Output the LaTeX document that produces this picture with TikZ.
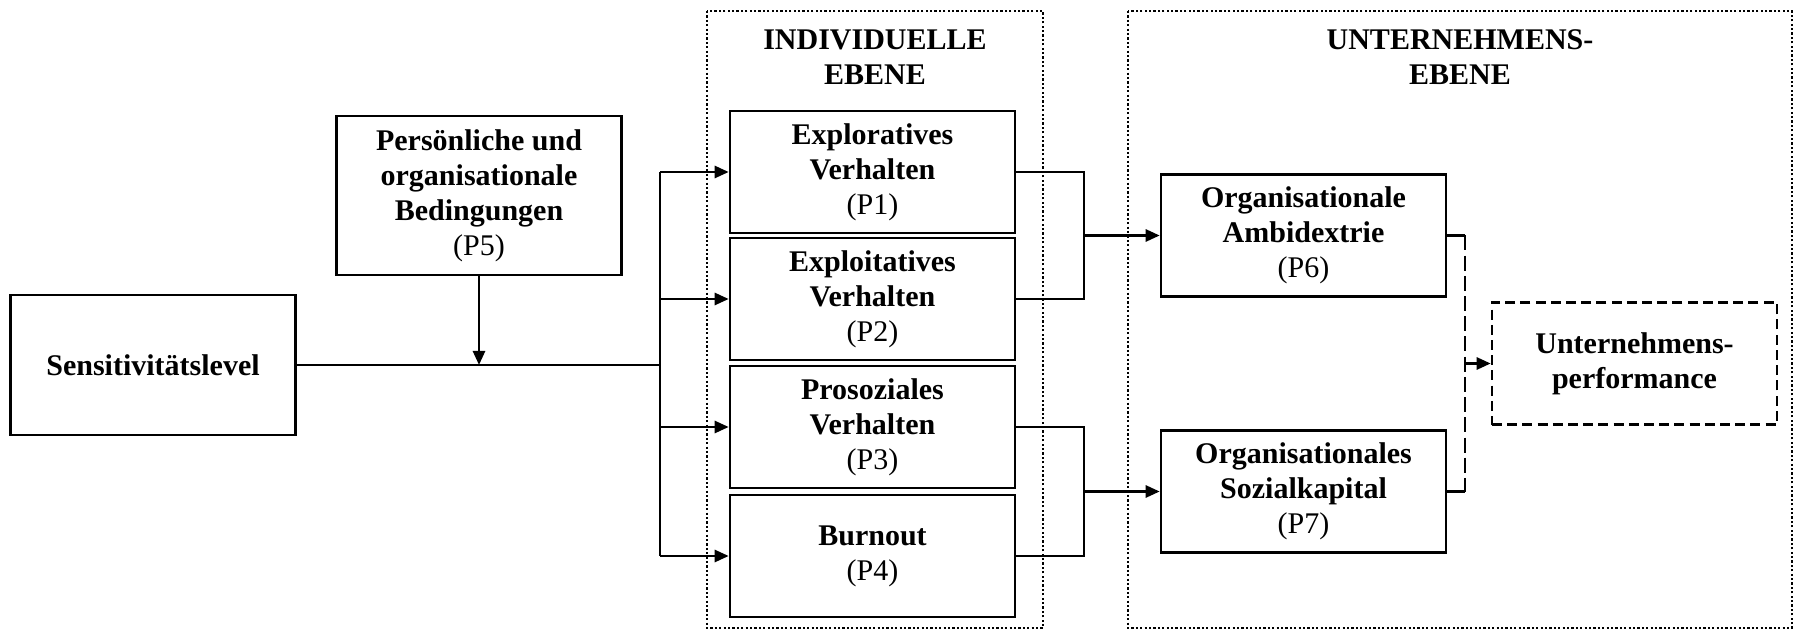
\documentclass[tikz,border=0pt]{standalone}
\usepackage{fontspec}
\setmainfont{Liberation Serif}
\usetikzlibrary{arrows.meta}
\begin{document}
\begin{tikzpicture}[x=0.5pt, y=-0.5pt, line width=1.3pt,
  every node/.style={font=\fontsize{15}{17.5}\selectfont\bfseries, align=center, inner sep=2pt},
  box/.style={draw, minimum width=142.5pt, minimum height=61pt},
  ebene/.style={line width=0.9pt, dash pattern=on 1.1pt off 1.1pt},
  gestrichelt/.style={dash pattern=on 5pt off 2.6pt},
  langstrich/.style={dash pattern=on 7.5pt off 2.6pt},
  pfeil/.style={-{Triangle[length=7pt, width=6pt]}}]
\useasboundingbox (0,0) rectangle (1797,630);
% Ebenen
\draw[ebene] (707,11) rectangle (1043,628);
\draw[ebene] (1128,11) rectangle (1792,628);
\node (titelInd) at (875,57) {INDIVIDUELLE\\EBENE};
\node (titelUnt) at (1460,57) {UNTERNEHMENS-\\EBENE};
% Knoten links
\node[box, minimum height=70pt] (sens) at (153,365) {Sensitivitätslevel};
\node[box, minimum height=79.5pt] (bed) at (479,195.5) {Persönliche und\\organisationale\\Bedingungen\\\textmd{(P5)}};
% individuelle Ebene
\foreach \n/\y/\txt in {expl/172/{Exploratives\\Verhalten\\\textmd{(P1)}}, expt/299/{Exploitatives\\Verhalten\\\textmd{(P2)}}, pros/427/{Prosoziales\\Verhalten\\\textmd{(P3)}}, burn/556/{Burnout\\\textmd{(P4)}}}
  \node[box] (\n) at (872.5,\y) {\txt};
% Unternehmensebene
\node[box] (amb) at (1303.5,235.5) {Organisationale\\Ambidextrie\\\textmd{(P6)}};
\node[box] (kap) at (1303.5,491.5) {Organisationales\\Sozialkapital\\\textmd{(P7)}};
\node[box, gestrichelt] (perf) at (1634.5,363.5) {Unternehmens-\\performance};
% Verbindungen
\coordinate (verz) at (660,365);
\coordinate (b1) at (1084,0);
\coordinate (b2) at (1465,0);
\draw (sens.east) -- (verz);
\draw[pfeil] (bed.south) -- (bed.south |- sens.east);
\draw (verz |- expl) -- (verz |- burn);
\foreach \n in {expl,expt,pros,burn} \draw[pfeil] (verz |- \n) -- (\n.west);
\draw (expl.east) -- (expl.east -| b1) -- (expt.east -| b1) -- (expt.east);
\draw (pros.east) -- (pros.east -| b1) -- (burn.east -| b1) -- (burn.east);
\draw[pfeil] (amb.west -| b1) -- (amb.west);
\draw[pfeil] (kap.west -| b1) -- (kap.west);
\draw (amb.east) -- (amb.east -| b2);
\draw[langstrich] (amb.east -| b2) -- (kap.east -| b2);
\draw (kap.east) -- (kap.east -| b2);
\draw[pfeil] (perf.west -| b2) -- (perf.west);
\end{tikzpicture}
\end{document}
